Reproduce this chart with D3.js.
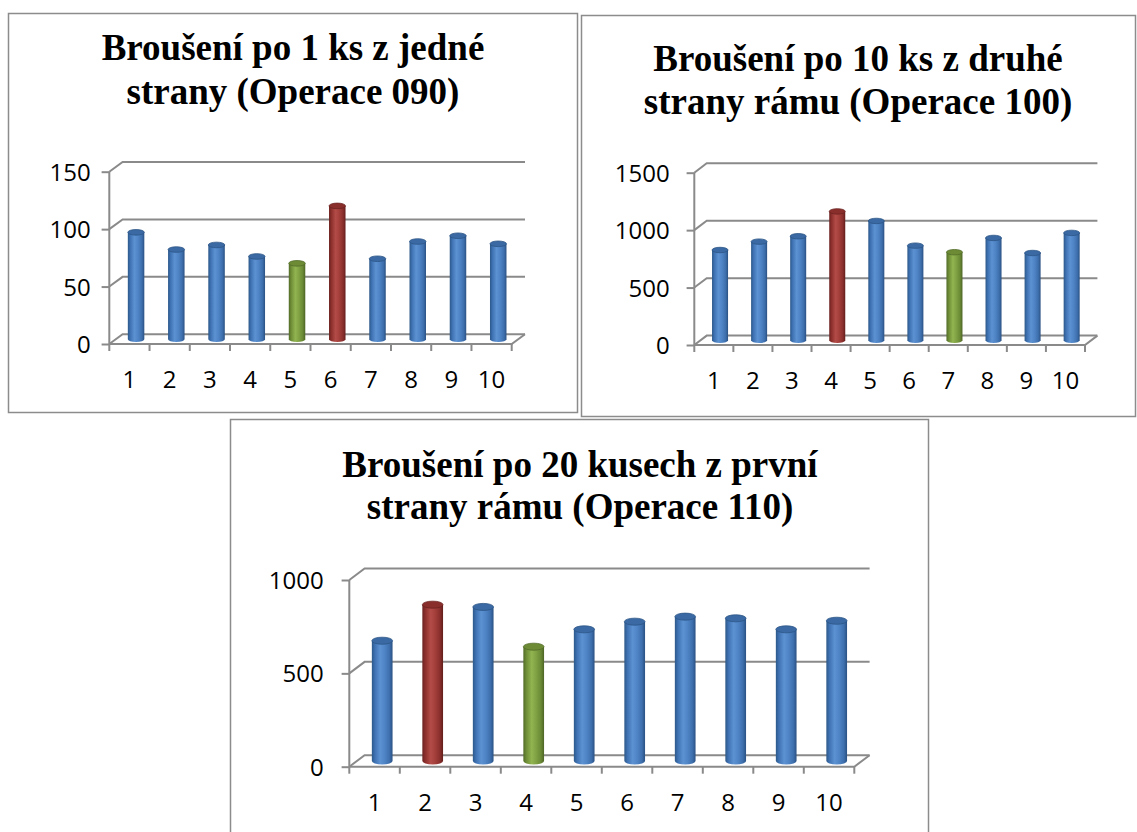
<!DOCTYPE html>
<html>
<head>
<meta charset="utf-8">
<script src="https://cdn.jsdelivr.net/npm/d3@7"></script>
<style>
  body { margin: 0; background: #ffffff; }
  svg { display: block; }
</style>
</head>
<body>
<svg id="chart" width="1137" height="832"></svg>
<script>
// ---- data ----
const categories = ["1", "2", "3", "4", "5", "6", "7", "8", "9", "10"];

const op090Title = ["Broušení po 1 ks z jedné", "strany (Operace 090)"];
const op090Values = [93, 78, 82, 72, 66, 116, 70, 85, 90, 83];
const op090Ticks = [0, 50, 100, 150];
const op090High = "6";
const op090Low = "5";

const op100Title = ["Broušení po 10 ks z druhé", "strany rámu (Operace 100)"];
const op100Values = [786, 859, 906, 1122, 1039, 824, 767, 891, 760, 935];
const op100Ticks = [0, 500, 1000, 1500];
const op100High = "4";
const op100Low = "7";

const op110Title = ["Broušení po 20 kusech z první", "strany rámu (Operace 110)"];
const op110Values = [644, 837, 825, 612, 705, 746, 773, 764, 705, 751];
const op110Ticks = [0, 500, 1000];
const op110High = "2";
const op110Low = "4";

// ---- layout of the three panels ----
const panels = [
  { title: op090Title, values: op090Values, ticks: op090Ticks, high: op090High, low: op090Low,
    box: [8, 13, 577, 412], titleX: 293, titleY: [60, 104],
    plot: { x0: 109.3, x1: 511.7, y0: 344, y1: 171.7 }, depth: [13.3, -9.7],
    labelPad: 11, catY: 388 },
  { title: op100Title, values: op100Values, ticks: op100Ticks, high: op100High, low: op100Low,
    box: [581, 15, 1135, 416], titleX: 858, titleY: [71, 114],
    plot: { x0: 694.3, x1: 1085, y0: 345, y1: 172.7 }, depth: [12.4, -9.4],
    labelPad: 17, catY: 389 },
  { title: op110Title, values: op110Values, ticks: op110Ticks, high: op110High, low: op110Low,
    box: [230, 419, 928, 845], titleX: 580, titleY: [477, 519],
    plot: { x0: 349.3, x1: 854.3, y0: 766.7, y1: 580 }, depth: [15.3, -11.5],
    labelPad: 18, catY: 811 }
];

const svg = d3.select("#chart");
const defs = svg.append("defs");

// cylinder shading for each bar colour
const palette = {
  normal: { body: ["#2d5889", "#3e72b3", "#5c91d2", "#5086c7", "#3e6fad", "#2a5183"], top: "#3a69a3", rim: "#2c5587" },
  high:   { body: ["#6a2220", "#8e302d", "#b34c48", "#a5403c", "#8a2f2c", "#621e1c"], top: "#8a2e2b", rim: "#6a2220" },
  low:    { body: ["#526c28", "#6f8e37", "#92b450", "#82a344", "#6a8935", "#4c6425"], top: "#6d8b35", rim: "#526c28" }
};
const stopOffsets = [0, 0.15, 0.4, 0.6, 0.85, 1];
Object.entries(palette).forEach(([key, p]) => {
  const g = defs.append("linearGradient").attr("id", "cyl-" + key)
    .attr("x1", 0).attr("x2", 1).attr("y1", 0).attr("y2", 0);
  p.body.forEach((c, i) => g.append("stop").attr("offset", stopOffsets[i]).attr("stop-color", c));
});

const gridColor = "#8a8a8a";
const labelFont = "'Open Sans', 'Noto Sans', sans-serif";

panels.forEach(pn => {
  const g = svg.append("g");
  const [bx0, by0, bx1, by1] = pn.box;
  const { x0, x1, y0, y1 } = pn.plot;
  const [dx, dy] = pn.depth;

  // frame
  g.append("rect")
    .attr("x", bx0 + 0.5).attr("y", by0 + 0.5)
    .attr("width", bx1 - bx0).attr("height", by1 - by0)
    .attr("fill", "#ffffff").attr("stroke", "#8c8c8c").attr("stroke-width", 1.5);

  // title
  g.append("text")
    .attr("x", pn.titleX)
    .attr("font-family", "'Liberation Serif', 'Times New Roman', serif")
    .attr("font-weight", "bold").attr("font-size", 37)
    .attr("text-anchor", "middle").attr("fill", "#000")
    .selectAll("tspan").data(pn.title).join("tspan")
    .attr("x", pn.titleX).attr("y", (d, i) => pn.titleY[i])
    .text(d => d);

  const yMax = d3.max(pn.ticks);
  const y = d3.scaleLinear().domain([0, yMax]).range([y0, y1]);
  const x = d3.scaleBand().domain(categories).range([x0, x1]).padding(0);

  // back wall gridlines with their left-wall diagonals
  const grid = g.append("g").attr("stroke", gridColor).attr("stroke-width", 2).attr("fill", "none");
  pn.ticks.forEach(t => {
    grid.append("path")
      .attr("d", `M${x0},${y(t)}L${x0 + dx},${y(t) + dy}L${x1 + dx},${y(t) + dy}`);
  });
  // floor: front edge and right diagonal
  grid.append("path").attr("d", `M${x0},${y0}L${x1},${y0}L${x1 + dx},${y0 + dy}`);
  // value axis line
  grid.append("line").attr("x1", x0).attr("x2", x0).attr("y1", y0).attr("y2", y(yMax));

  // value axis ticks + labels
  const yAxis = d3.axisLeft(y).tickValues(pn.ticks).tickSize(7.7).tickPadding(pn.labelPad).tickFormat(d3.format("d"));
  const ya = g.append("g").attr("transform", `translate(${x0},0)`).call(yAxis);
  ya.select(".domain").remove();
  ya.selectAll(".tick line").attr("stroke", gridColor).attr("stroke-width", 2);
  ya.selectAll(".tick text")
    .attr("font-family", labelFont)
    .attr("font-size", 24).attr("fill", "#000").attr("dy", "0.36em");

  // category boundary ticks
  const bounds = d3.range(categories.length + 1).map(i => x0 + i * x.step());
  g.append("g").selectAll("line").data(bounds).join("line")
    .attr("x1", d => d).attr("x2", d => d)
    .attr("y1", y0).attr("y2", y0 + 7)
    .attr("stroke", gridColor).attr("stroke-width", 2);

  // category labels
  g.append("g").selectAll("text").data(categories).join("text")
    .attr("x", d => x(d) + x.bandwidth() / 2)
    .attr("y", pn.catY)
    .attr("text-anchor", "middle")
    .attr("font-family", labelFont)
    .attr("font-size", 24).attr("fill", "#000")
    .text(d => d);

  // cylinders, standing at mid-depth of the floor
  const w = x.bandwidth() * 0.41;
  const ry = w * 0.17;
  const bars = categories.map((c, i) => ({
    cat: c, value: pn.values[i],
    kind: c === pn.high ? "high" : (c === pn.low ? "low" : "normal")
  }));
  const bar = g.append("g").selectAll("g").data(bars).join("g");
  bar.append("path")
    .attr("fill", d => `url(#cyl-${d.kind})`)
    .attr("d", d => {
      const cx = x(d.cat) + x.bandwidth() / 2 + dx / 2;
      const yt = y(d.value) + dy / 2;
      const yb = y(0) + dy / 2;
      const l = cx - w / 2, r = cx + w / 2;
      return `M${l},${yt}L${l},${yb}A${w / 2},${ry} 0 0 0 ${r},${yb}L${r},${yt}Z`;
    });
  bar.append("ellipse")
    .attr("cx", d => x(d.cat) + x.bandwidth() / 2 + dx / 2)
    .attr("cy", d => y(d.value) + dy / 2)
    .attr("rx", w / 2).attr("ry", ry)
    .attr("fill", d => palette[d.kind].top)
    .attr("stroke", d => palette[d.kind].rim).attr("stroke-width", 0.8);
});
</script>
</body>
</html>
